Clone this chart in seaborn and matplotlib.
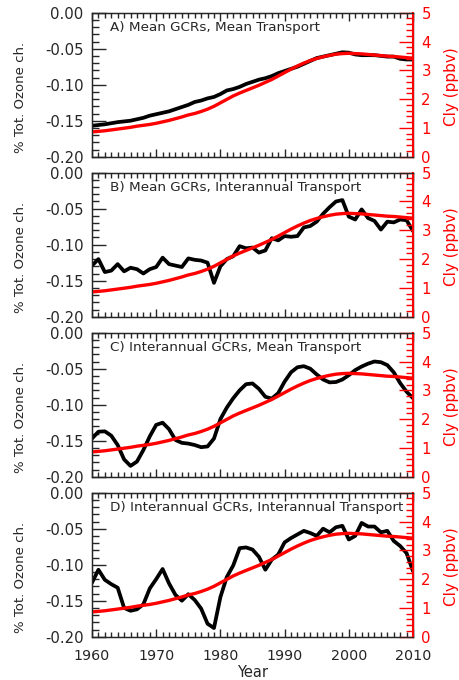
import numpy as np
import pandas as pd
import matplotlib
matplotlib.use("Agg")
import matplotlib.pyplot as plt
import seaborn as sns
from matplotlib.ticker import MultipleLocator, FormatStrFormatter

years = list(range(1960, 2011))

cly = [0.86, 0.88, 0.90, 0.93, 0.96, 0.99, 1.02, 1.06, 1.09, 1.12,
       1.16, 1.21, 1.26, 1.32, 1.38, 1.45, 1.50, 1.57, 1.65, 1.75,
       1.87, 1.99, 2.11, 2.21, 2.30, 2.39, 2.48, 2.58, 2.68, 2.80,
       2.92, 3.04, 3.15, 3.25, 3.34, 3.41, 3.47, 3.52, 3.56, 3.58,
       3.59, 3.58, 3.57, 3.55, 3.53, 3.51, 3.49, 3.48, 3.46, 3.44, 3.42]

ozone_a = [-0.157, -0.156, -0.155, -0.1535, -0.152, -0.151, -0.150, -0.148, -0.146, -0.143,
           -0.141, -0.139, -0.137, -0.134, -0.131, -0.128, -0.124, -0.122, -0.119, -0.117,
           -0.113, -0.108, -0.106, -0.103, -0.099, -0.096, -0.093, -0.091, -0.088, -0.084,
           -0.081, -0.078, -0.075, -0.071, -0.067, -0.063, -0.061, -0.059, -0.057, -0.055,
           -0.0555, -0.058, -0.059, -0.059, -0.059, -0.060, -0.061, -0.061, -0.064, -0.065, -0.065]

ozone_b = [-0.129, -0.120, -0.138, -0.136, -0.127, -0.137, -0.132, -0.134, -0.140, -0.134,
           -0.131, -0.118, -0.127, -0.129, -0.131, -0.119, -0.121, -0.122, -0.125, -0.153,
           -0.130, -0.120, -0.116, -0.102, -0.105, -0.104, -0.111, -0.108, -0.091, -0.094,
           -0.088, -0.089, -0.088, -0.076, -0.074, -0.068, -0.057, -0.048, -0.040, -0.038,
           -0.061, -0.065, -0.051, -0.063, -0.067, -0.079, -0.068, -0.069, -0.065, -0.066, -0.081]

ozone_c = [-0.147, -0.1375, -0.137, -0.143, -0.156, -0.176, -0.185, -0.179, -0.163, -0.144,
           -0.128, -0.125, -0.134, -0.149, -0.153, -0.154, -0.156, -0.159, -0.158, -0.147,
           -0.120, -0.104, -0.091, -0.080, -0.0715, -0.0705, -0.078, -0.089, -0.0915, -0.084,
           -0.068, -0.055, -0.048, -0.0465, -0.050, -0.058, -0.065, -0.069, -0.0685, -0.065,
           -0.059, -0.052, -0.047, -0.043, -0.040, -0.041, -0.045, -0.055, -0.070, -0.082, -0.091]

ozone_d = [-0.125, -0.107, -0.121, -0.127, -0.132, -0.160, -0.164, -0.162, -0.155, -0.133,
           -0.120, -0.106, -0.126, -0.142, -0.150, -0.141, -0.149, -0.161, -0.182, -0.188,
           -0.145, -0.117, -0.101, -0.077, -0.076, -0.079, -0.089, -0.107, -0.093, -0.086,
           -0.069, -0.063, -0.058, -0.053, -0.056, -0.060, -0.050, -0.055, -0.048, -0.046,
           -0.065, -0.060, -0.042, -0.047, -0.047, -0.055, -0.053, -0.067, -0.074, -0.084, -0.109]

titles = ["A) Mean GCRs, Mean Transport",
          "B) Mean GCRs, Interannual Transport",
          "C) Interannual GCRs, Mean Transport",
          "D) Interannual GCRs, Interannual Transport"]

sns.set_style("ticks")
plt.rcParams['font.family'] = ['DejaVu Sans']

fig = plt.figure(figsize=(4.59, 6.80), dpi=100)

left = 92 / 459
width = 321 / 459
height = 144 / 680
tops = [12.7, 172.7, 332.7, 492.7]
series = [ozone_a, ozone_b, ozone_c, ozone_d]
red = '#ff0000'

for i, (oz, title, top) in enumerate(zip(series, titles, tops)):
    bottom = 1 - (top + 144) / 680
    ax = fig.add_axes([left, bottom, width, height])
    df = pd.DataFrame({'Year': years, 'Ozone': oz, 'Cly': cly})
    sns.lineplot(data=df, x='Year', y='Ozone', ax=ax, color='black', lw=2.7)
    ax.set_xlim(1960, 2010)
    ax.set_ylim(-0.2, 0.0)
    ax.xaxis.set_major_locator(MultipleLocator(10))
    ax.xaxis.set_minor_locator(MultipleLocator(1))
    ax.yaxis.set_major_locator(MultipleLocator(0.05))
    ax.yaxis.set_minor_locator(MultipleLocator(0.01))
    ax.yaxis.set_major_formatter(FormatStrFormatter('%.2f'))
    ax.tick_params(axis='x', which='major', direction='in', length=6, width=1,
                   top=True, bottom=True, labelsize=10.3, pad=9)
    ax.tick_params(axis='x', which='minor', direction='in', length=3.5, width=1,
                   top=True, bottom=True)
    ax.tick_params(axis='y', which='major', direction='in', length=10, width=1,
                   left=True, right=False, labelsize=10.7, pad=6)
    ax.tick_params(axis='y', which='minor', direction='in', length=5, width=1,
                   left=True, right=False)
    for s in ax.spines.values():
        s.set_linewidth(1.0)
    ax.set_ylabel('% Tot. Ozone ch.', fontsize=9.5)
    ax.yaxis.set_label_coords(-0.2025, 0.41)
    if i < 3:
        ax.tick_params(axis='x', labelbottom=False)
        ax.set_xlabel('')
    else:
        ax.set_xlabel('Year', fontsize=10.5)
        ax.xaxis.set_label_coords(0.5, -0.198)
    ax.text(0.056, 0.90, title, transform=ax.transAxes, fontsize=9.7,
            ha='left', va='center')

    ax2 = ax.twinx()
    sns.lineplot(data=df, x='Year', y='Cly', ax=ax2, color=red, lw=2.4)
    ax2.set_ylim(0, 5)
    ax2.set_xlim(1960, 2010)
    ax2.yaxis.set_major_locator(MultipleLocator(1))
    ax2.yaxis.set_minor_locator(MultipleLocator(0.2))
    ax2.tick_params(axis='y', which='major', direction='in', length=10, width=1,
                    colors=red, labelsize=10.7, pad=6)
    ax2.tick_params(axis='y', which='minor', direction='in', length=5, width=1,
                    colors=red)
    ax2.spines['right'].set_color(red)
    ax2.spines['right'].set_linewidth(1.5)
    ax2.set_ylabel('Cly (ppbv)', color=red, fontsize=11)
    ax2.yaxis.set_label_coords(1.0966, 0.49)

fig.savefig('out.png', dpi=100)
